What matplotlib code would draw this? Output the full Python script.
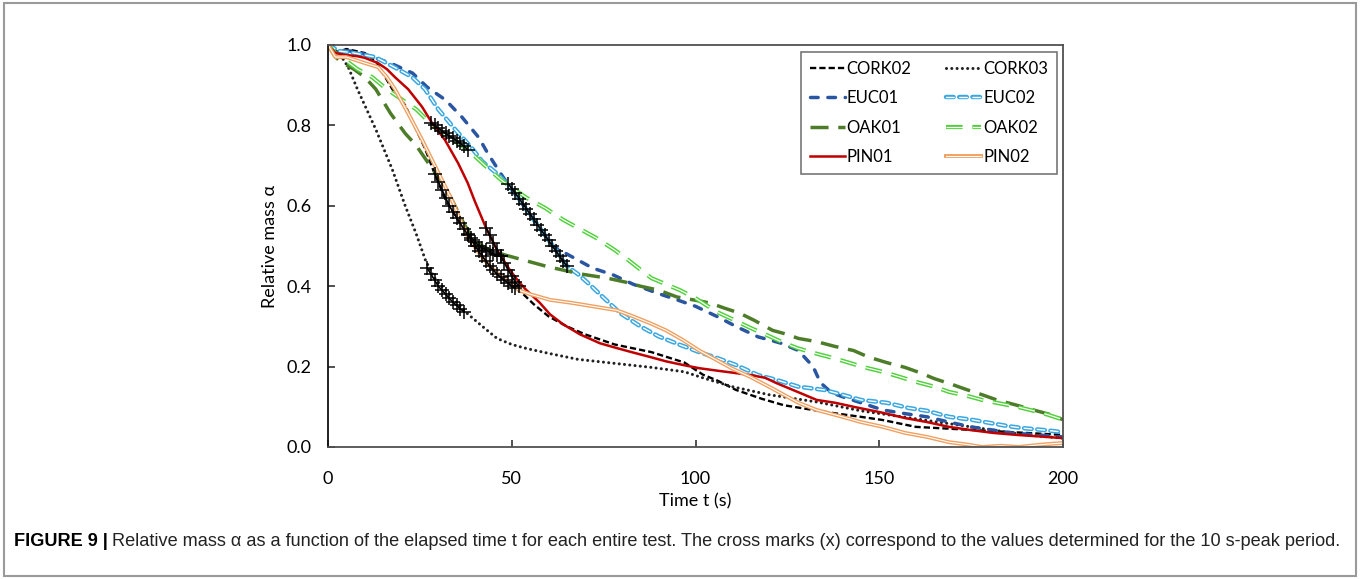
import numpy as np
import matplotlib
matplotlib.use('Agg')
import matplotlib.pyplot as plt
import matplotlib.patheffects as pe
from matplotlib.patches import Rectangle

plt.rcParams['lines.scale_dashes'] = False
plt.rcParams['font.family'] = ['Lato', 'DejaVu Sans']

# ---- data: time t (s) and relative mass alpha ----
cork02_t = [0, 2, 5, 10, 13, 17.5, 21, 23.5, 26.5, 29, 32, 36, 40, 44, 48, 52, 56, 60, 65, 70, 78, 88, 97,
            102, 106, 111, 118, 124, 130, 137, 145, 151, 160, 170, 180, 190, 200]
cork02_a = [1.0, 0.98, 0.99, 0.98, 0.96, 0.89, 0.85, 0.80, 0.74, 0.68, 0.615, 0.556, 0.50, 0.45, 0.415, 0.39,
            0.355, 0.325, 0.30, 0.28, 0.255, 0.236, 0.21, 0.18, 0.165, 0.142, 0.12, 0.104, 0.095, 0.085, 0.075,
            0.067, 0.05, 0.045, 0.04, 0.035, 0.03]

cork03_t = [0, 3, 5.5, 8, 13, 17.5, 21, 24, 26.5, 29, 32, 35, 37.5, 42, 46, 50, 54, 60, 68, 78, 88, 97, 102,
            110, 120, 133, 145, 160, 175, 190, 200]
cork03_a = [1.0, 0.98, 0.945, 0.89, 0.79, 0.69, 0.60, 0.53, 0.465, 0.42, 0.39, 0.36, 0.335, 0.30, 0.27, 0.255,
            0.245, 0.233, 0.218, 0.208, 0.198, 0.187, 0.172, 0.15, 0.13, 0.112, 0.09, 0.07, 0.05, 0.03, 0.022]

euc01_t = [0, 3, 6, 9, 12, 17, 23, 27, 32, 36.5, 41, 43.5, 47, 50, 54, 58, 61, 64, 67, 72, 77.6, 83, 89.5, 95,
           100, 106, 111, 117, 123, 128, 130, 132, 134, 137, 140, 145, 151, 157, 163, 169, 175, 181, 186, 193, 200]
euc01_a = [1.0, 0.985, 0.985, 0.98, 0.97, 0.955, 0.93, 0.895, 0.863, 0.82, 0.77, 0.73, 0.68, 0.64, 0.59, 0.54,
           0.50, 0.485, 0.47, 0.445, 0.428, 0.405, 0.383, 0.366, 0.35, 0.324, 0.30, 0.274, 0.259, 0.24, 0.22,
           0.20, 0.16, 0.135, 0.125, 0.11, 0.092, 0.083, 0.075, 0.062, 0.05, 0.042, 0.035, 0.03, 0.025]

euc02_t = [0, 3, 7, 12.8, 18, 22.9, 26.4, 30, 34.6, 39, 42, 46, 48.7, 51, 54, 58, 62, 65, 68, 70.5, 74.8, 79.5,
           85, 90, 95.8, 101, 106, 111, 117, 122, 128, 135, 140, 145, 152, 158, 163, 169, 175, 180, 185, 189,
           195, 200]
euc02_a = [1.0, 0.985, 0.98, 0.97, 0.945, 0.92, 0.89, 0.84, 0.79, 0.745, 0.71, 0.68, 0.655, 0.63, 0.59, 0.54,
           0.49, 0.45, 0.43, 0.41, 0.373, 0.333, 0.30, 0.275, 0.254, 0.236, 0.221, 0.204, 0.179, 0.167, 0.15,
           0.142, 0.13, 0.117, 0.11, 0.097, 0.09, 0.075, 0.068, 0.06, 0.052, 0.047, 0.042, 0.037]

oak01_t = [0, 2, 4, 7, 10, 13, 17, 21, 24, 27, 31, 34, 37, 40, 44, 48, 52, 60, 69, 76, 81, 85, 90, 95, 100,
           104, 108, 112, 116, 121, 125, 128, 133, 138, 143, 147, 152, 157, 161, 165, 170, 174, 178, 182, 187,
           192, 196, 200]
oak01_a = [1.0, 0.97, 0.955, 0.94, 0.92, 0.89, 0.83, 0.78, 0.75, 0.71, 0.66, 0.61, 0.555, 0.51, 0.49, 0.478,
           0.468, 0.448, 0.43, 0.42, 0.41, 0.40, 0.39, 0.373, 0.365, 0.358, 0.345, 0.333, 0.315, 0.29, 0.28,
           0.27, 0.262, 0.25, 0.24, 0.224, 0.21, 0.198, 0.185, 0.17, 0.155, 0.142, 0.13, 0.117, 0.105, 0.092,
           0.082, 0.068]

oak02_t = [0, 2, 4.6, 8, 12, 16, 20, 24, 29, 33, 38, 42.7, 47, 50, 54, 59, 64, 69, 73, 78, 81, 88, 95.8, 100,
           105.8, 110, 115, 120, 124, 128, 133, 138, 142, 146, 151, 155, 160, 165, 169, 174, 178, 183, 187.5,
           192, 196, 200]
oak02_a = [1.0, 0.98, 0.963, 0.94, 0.92, 0.89, 0.865, 0.84, 0.795, 0.77, 0.74, 0.70, 0.665, 0.645, 0.62,
           0.595, 0.565, 0.54, 0.52, 0.49, 0.47, 0.42, 0.39, 0.37, 0.336, 0.318, 0.296, 0.276, 0.259, 0.245,
           0.232, 0.22, 0.209, 0.198, 0.187, 0.176, 0.162, 0.15, 0.137, 0.127, 0.117, 0.108, 0.10, 0.09, 0.08,
           0.068]

pin01_t = [0, 2, 5, 8, 10, 13.6, 16, 18.2, 21.8, 25.6, 28.3, 31.8, 35.4, 38, 40, 43, 46, 49.5, 52, 54, 57.7,
           60.4, 64, 68.6, 74, 78.6, 83, 87.6, 92, 96.6, 101, 105.8, 110, 115, 119, 122, 127, 133, 138, 143,
           151, 157, 163, 169, 175, 181, 187.5, 194, 200]
pin01_a = [1.0, 0.98, 0.975, 0.972, 0.968, 0.955, 0.94, 0.92, 0.89, 0.846, 0.806, 0.764, 0.706, 0.657, 0.61,
           0.545, 0.49, 0.44, 0.41, 0.39, 0.358, 0.33, 0.305, 0.28, 0.258, 0.246, 0.235, 0.224, 0.213, 0.204,
           0.196, 0.19, 0.185, 0.179, 0.172, 0.159, 0.14, 0.117, 0.11, 0.10, 0.085, 0.072, 0.062, 0.05, 0.042,
           0.035, 0.03, 0.026, 0.022]

pin02_t = [0, 2, 5, 10, 13.6, 16, 18.2, 21.8, 25.6, 28.3, 31, 33.7, 36, 38, 40.5, 43.5, 47, 50, 52, 55, 57.7,
           60.4, 66.7, 72, 78.6, 83, 87.6, 92, 96.6, 101, 105.8, 110, 115, 120, 124, 128, 133, 140, 145, 151,
           157, 163, 169, 174, 178, 183, 188, 193, 197, 200]
pin02_a = [1.0, 0.97, 0.97, 0.955, 0.945, 0.92, 0.89, 0.83, 0.764, 0.714, 0.664, 0.614, 0.565, 0.525, 0.49,
           0.455, 0.425, 0.405, 0.39, 0.38, 0.373, 0.366, 0.358, 0.35, 0.34, 0.325, 0.308, 0.29, 0.266, 0.24,
           0.216, 0.195, 0.174, 0.15, 0.13, 0.11, 0.092, 0.075, 0.062, 0.05, 0.035, 0.025, 0.012, 0.006, 0.0,
           0.003, 0.0, 0.005, 0.008, 0.01]

# cross marks: values of the 10 s-peak period
cork02_x_t = [29, 30, 31, 32, 33, 34, 35, 36, 37, 38, 39, 40, 41, 42, 43, 44, 45, 46, 47, 48, 49, 50, 51]
cork02_x_a = [0.68, 0.66, 0.64, 0.62, 0.60, 0.585, 0.57, 0.556, 0.542, 0.528, 0.515, 0.50, 0.487, 0.474,
              0.462, 0.45, 0.44, 0.43, 0.422, 0.415, 0.408, 0.40, 0.395]
cork03_x_t = [27, 28, 29, 30, 31, 32, 33, 34, 35, 36, 37]
cork03_x_a = [0.445, 0.43, 0.415, 0.40, 0.39, 0.38, 0.37, 0.36, 0.352, 0.344, 0.336]
oak01_x_t = [38, 39, 40, 41, 42, 43, 44, 45, 46, 47]
oak01_x_a = [0.53, 0.52, 0.51, 0.50, 0.495, 0.49, 0.485, 0.48, 0.478, 0.475]
oak02_x_t = [28, 29, 30, 31, 32, 33, 34, 35, 36, 37, 38]
oak02_x_a = [0.805, 0.80, 0.793, 0.787, 0.78, 0.774, 0.768, 0.762, 0.755, 0.748, 0.74]
euc02_x_t = [49, 50, 51, 52, 53, 54, 55, 56, 57, 58, 59, 60, 61, 62, 63, 64, 65]
euc02_x_a = [0.655, 0.643, 0.631, 0.618, 0.605, 0.592, 0.579, 0.566, 0.553, 0.540, 0.527, 0.514, 0.501,
             0.488, 0.475, 0.462, 0.450]
pin01_x_t = [43, 44, 45, 46, 47, 48, 49, 50, 51, 52]
pin01_x_a = [0.545, 0.527, 0.508, 0.49, 0.474, 0.458, 0.44, 0.425, 0.41, 0.40]

fig = plt.figure(figsize=(13.6, 5.79), dpi=100)
ax = fig.add_axes([0.2412, 0.228, 0.5404, 0.6943])


def hollow(color, width):
    return [pe.Stroke(linewidth=width, foreground=color), pe.Normal()]


l_cork02, = ax.plot(cork02_t, cork02_a, color='black', lw=1.7, dashes=(4.5, 2.2), label='CORK02')
l_cork03, = ax.plot(cork03_t, cork03_a, color='#222222', lw=2.2, dashes=(0.01, 3.8),
                    dash_capstyle='round', label='CORK03')
l_euc01, = ax.plot(euc01_t, euc01_a, color='#2a55a0', lw=2.5, dashes=(5.5, 7),
                   dash_capstyle='round', label='EUC01')
l_euc02, = ax.plot(euc02_t, euc02_a, color='white', lw=1.0, dashes=(5.5, 4),
                   dash_capstyle='round', path_effects=hollow('#3aa8e0', 3.2), label='EUC02')
l_oak01, = ax.plot(oak01_t, oak01_a, color='#4e7d2a', lw=2.5, dashes=(13, 7), label='OAK01')
l_oak02, = ax.plot(oak02_t, oak02_a, color='white', lw=0.9, dashes=(12, 7),
                   path_effects=hollow('#4fd13a', 3.0), label='OAK02')
l_pin01, = ax.plot(pin01_t, pin01_a, color='#c00000', lw=1.8, label='PIN01')
l_pin02, = ax.plot(pin02_t, pin02_a, color='white', lw=0.8,
                   path_effects=hollow('#f0a060', 2.8), label='PIN02')

for xt, xa in [(cork02_x_t, cork02_x_a), (cork03_x_t, cork03_x_a), (oak01_x_t, oak01_x_a),
               (oak02_x_t, oak02_x_a), (euc02_x_t, euc02_x_a), (pin01_x_t, pin01_x_a)]:
    ax.plot(xt, xa, color='black', lw=1.2, marker='+', ms=10, mew=1.1, zorder=5)

ax.set_xlim(0, 200)
ax.set_ylim(0, 1.0)
ax.set_xticks([0, 50, 100, 150, 200])
ax.set_yticks([0, 0.2, 0.4, 0.6, 0.8, 1.0])
ax.set_yticklabels(['0.0', '0.2', '0.4', '0.6', '0.8', '1.0'])
ax.tick_params(direction='in', length=5, width=1.2, labelsize=13, color='#333333', pad=12)
ax.tick_params(axis='x', pad=17)
for s in ax.spines.values():
    s.set_color('#505050')
    s.set_linewidth(1.3)
ax.spines['left'].set_color('#111111')
ax.set_xlabel('Time t (s)', fontsize=13, labelpad=5)
ax.set_ylabel('Relative mass \u03b1', fontsize=13, labelpad=6)

handles = [l_cork02, l_euc01, l_oak01, l_pin01, l_cork03, l_euc02, l_oak02, l_pin02]
leg = ax.legend(handles=handles, ncol=2, loc='upper right', bbox_to_anchor=(0.992, 0.983),
                borderaxespad=0, fontsize=12, handlelength=2.1, handletextpad=0.1,
                columnspacing=2.1, labelspacing=0.8, fancybox=False, frameon=True,
                borderpad=0.55)
leg.get_frame().set_edgecolor('#555555')
leg.get_frame().set_linewidth(1.2)

# figure frame and caption
fig.patches.append(Rectangle((0.003, 0.005), 0.994, 0.99, transform=fig.transFigure,
                             fill=False, edgecolor='#9a9a9a', lw=1.5))
cap_font = ['Liberation Sans Narrow', 'Liberation Sans', 'DejaVu Sans']
t1 = fig.text(0.0105, 0.065, 'FIGURE 9 |', fontsize=13.1, fontweight='bold', family=cap_font,
              va='center', ha='left')
fig.canvas.draw()
bb = t1.get_window_extent()
fig.text(bb.x1 / fig.bbox.width + 0.003, 0.065,
         'Relative mass \u03b1 as a function of the elapsed time t for each entire test. '
         'The cross marks (x) correspond to the values determined for the 10 s-peak period.',
         fontsize=13.1, family=cap_font, va='center', ha='left', color='#222222')

fig.savefig('out.png', dpi=100)
